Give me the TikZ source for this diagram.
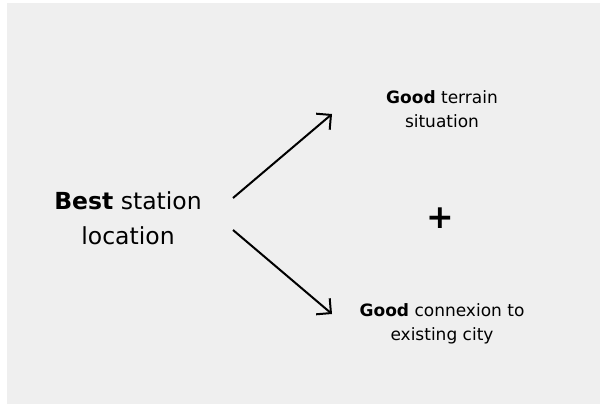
\documentclass[tikz,border=0pt]{standalone}
\usepackage{fontspec}
\setmainfont{DejaVu Sans}
\usetikzlibrary{arrows.meta}
\definecolor{bggray}{HTML}{EFEFEF}
\tikzset{
  bigtext/.style={align=center, font=\fontsize{23.5}{34.7}\selectfont, inner sep=0pt},
  smalltext/.style={align=center, font=\fontsize{17}{24.3}\selectfont, inner sep=0pt},
  plustext/.style={font=\fontsize{33}{40}\selectfont\bfseries, inner sep=0pt},
  arr/.style={line width=2pt, -{Straight Barb[length=10.5pt,width=21pt,line width=2pt]}}
}
\begin{document}
\begin{tikzpicture}[x=1pt,y=-1pt]
\useasboundingbox (0,0) rectangle (600,404);
\fill[white] (0,0) rectangle (600,404);
\fill[bggray] (7,3) rectangle (600,404);
\node[bigtext] (best) at (128,218) {\textbf{Best} station\\location};
\node[smalltext] (terrain) at (442,109) {\textbf{Good} terrain\\situation};
\node[smalltext] (connex) at (442,324) {\textbf{Good} connexion to\\existing city};
\node[plustext] (plus) at (440.5,218.5) {+};
\coordinate (s1) at (233,198);
\coordinate (e1) at (332,114);
\coordinate (s2) at (233,230);
\coordinate (e2) at (332,314);
\draw[arr] (s1) -- (e1);
\draw[arr] (s2) -- (e2);
\end{tikzpicture}
\end{document}
